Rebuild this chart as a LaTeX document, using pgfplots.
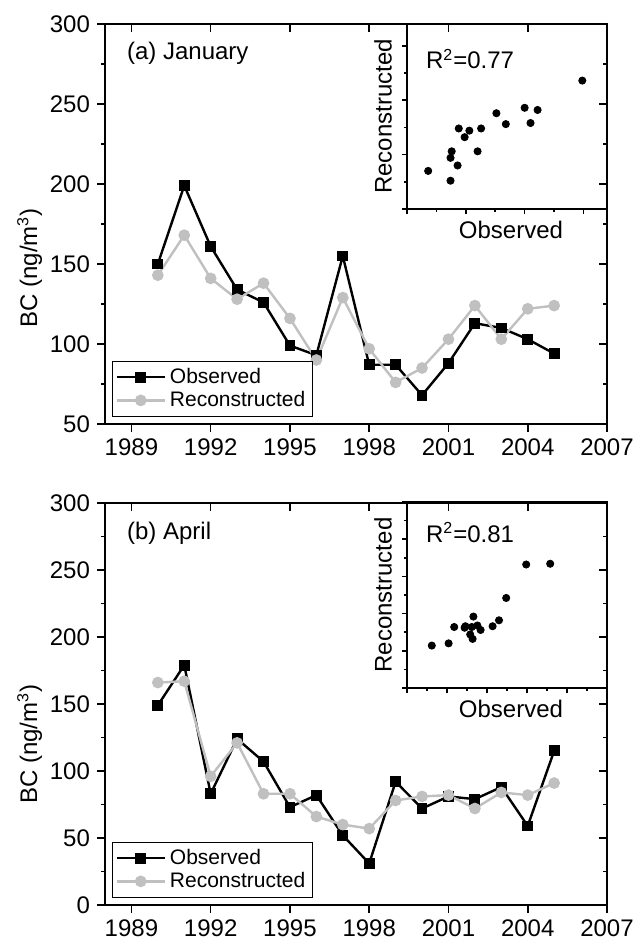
\documentclass[border=0pt]{standalone}
\usepackage{fontspec}
\setmainfont{Liberation Sans}
\usepackage{pgfplots}
\usepackage{pgfplotstable}
\pgfplotsset{compat=1.18}
\definecolor{recgray}{RGB}{192,192,192}

\pgfplotstableread{
year obs rec
1990 150 143
1991 199 168
1992 161 141
1993 134 128
1994 126 138
1995 99 116
1996 93 90
1997 155 129
1998 87 97
1999 87 76
2000 68 85
2001 88 103
2002 113 124
2003 110 103
2004 103 122
2005 94 124
}\jan

\pgfplotstableread{
year obs rec
1990 149 166
1991 179 167
1992 83 96
1993 124 121
1994 107 83
1995 73 83
1996 82 66
1997 52 60
1998 31 57
1999 92 78
2000 72 81
2001 81 82
2002 79 72
2003 88 84
2004 59 82
2005 115 91
}\apr

\pgfplotsset{
  base/.style={
    scale only axis,
    /pgf/number format/assume math mode=true,
    /pgf/number format/1000 sep={},
    axis line style={line width=0.8pt},
    every tick/.style={black, line width=0.8pt},
    tick label style={font=\fontsize{12}{14}\selectfont},
    label style={font=\fontsize{12}{14}\selectfont},
  },
  mainaxis/.style={
    base,
    width=251pt,
    xmin=1988, xmax=2007,
    xtick={1989,1992,...,2007},
    minor x tick num=1, minor y tick num=1,
    major tick length=4pt, minor tick length=2pt,
  },
  obsstyle/.style={black, line width=1.2pt, mark=square*, mark size=2.1pt, mark options={solid}},
  recstyle/.style={recgray, line width=1.2pt, mark=*, mark size=2.3pt, mark options={solid}},
  legstyle/.style={
    legend style={at={(axis description cs:0.014,0.0175)}, anchor=south west,
      draw=black, line width=0.5pt, font=\fontsize{10.5}{12}\selectfont,
      inner sep=1.5pt, row sep=-1.5pt, legend cell align=left,
      nodes={inner xsep=2pt}},
    legend image code/.code={\draw[mark repeat=2,mark phase=2,##1] plot coordinates {(0pt,0pt) (12pt,0pt) (24pt,0pt)};},
  },
  inset/.style={
    base,
    width=100pt,
    tick pos=left, tick align=outside,
    major tick length=2.6pt, minor tick length=1.5pt,
    minor x tick num=1, minor y tick num=1,
    xticklabels={}, yticklabels={},
    xlabel={Observed}, ylabel={Reconstructed},
    xlabel style={at={(axis description cs:0.52,-0.115)}, anchor=center},
    ylabel style={at={(axis description cs:-0.12,0.5)}, anchor=center},
  },
}

\begin{document}
\begin{tikzpicture}
\useasboundingbox (0,0) rectangle (317.5pt,469.5pt);

% ---------------- (a) January ----------------
\begin{axis}[mainaxis, at={(52.5pt,257.5pt)}, anchor=south west, height=200pt,
  ymin=50, ymax=300, ytick={50,100,...,300},
  tick pos=left, tick align=outside,
  ylabel={BC (ng/m\textsuperscript{3})},
  ylabel style={at={(axis description cs:-0.15,0.39)}, anchor=center},
  legstyle]
\addplot[obsstyle] table[x=year,y=obs]{\jan};
\addlegendentry{Observed}
\addplot[recstyle] table[x=year,y=rec]{\jan};
\addlegendentry{Reconstructed}
\node[anchor=west, font=\fontsize{12}{14}\selectfont] at (axis description cs:0.03,0.9275) {(a) January};
\end{axis}
\begin{axis}[mainaxis, at={(52.5pt,257.5pt)}, anchor=south west, height=200pt,
  ymin=50, ymax=300, ytick={50,100,...,300},
  tick pos=right, tick align=inside, xticklabels={}, yticklabels={}]
\end{axis}
\begin{axis}[inset, at={(203.5pt,365pt)}, anchor=south west, height=92.5pt,
  xmin=50, xmax=220, ymin=50, ymax=220,
  xtick={50,100,150,200}, ytick={50,100,150,200}]
\addplot[only marks, mark=*, mark size=1.8pt, black] table[x=obs,y=rec]{\jan};
\node[anchor=west, font=\fontsize{12}{14}\selectfont] at (axis description cs:0.06,0.81) {R\textsuperscript{2}=0.77};
\end{axis}

% ---------------- (b) April ----------------
\begin{axis}[mainaxis, at={(52.5pt,17pt)}, anchor=south west, height=201pt,
  ymin=0, ymax=300, ytick={0,50,...,300},
  tick pos=left, tick align=outside,
  ylabel={BC (ng/m\textsuperscript{3})},
  ylabel style={at={(axis description cs:-0.15,0.40)}, anchor=center},
  legstyle]
\addplot[obsstyle] table[x=year,y=obs]{\apr};
\addlegendentry{Observed}
\addplot[recstyle] table[x=year,y=rec]{\apr};
\addlegendentry{Reconstructed}
\node[anchor=west, font=\fontsize{12}{14}\selectfont] at (axis description cs:0.03,0.925) {(b) April};
\end{axis}
\begin{axis}[mainaxis, at={(52.5pt,17pt)}, anchor=south west, height=201pt,
  ymin=0, ymax=300, ytick={0,50,...,300},
  tick pos=right, tick align=inside, xticklabels={}, yticklabels={}]
\end{axis}
\begin{axis}[inset, at={(203.5pt,125.5pt)}, anchor=south west, height=93pt,
  xmin=0, xmax=250, ymin=0, ymax=250,
  xtick={0,50,...,250}, ytick={0,50,...,250}]
\addplot[only marks, mark=*, mark size=1.8pt, black] table[x=obs,y=rec]{\apr};
\node[anchor=west, font=\fontsize{12}{14}\selectfont] at (axis description cs:0.06,0.836) {R\textsuperscript{2}=0.81};
\end{axis}
\end{tikzpicture}
\end{document}
